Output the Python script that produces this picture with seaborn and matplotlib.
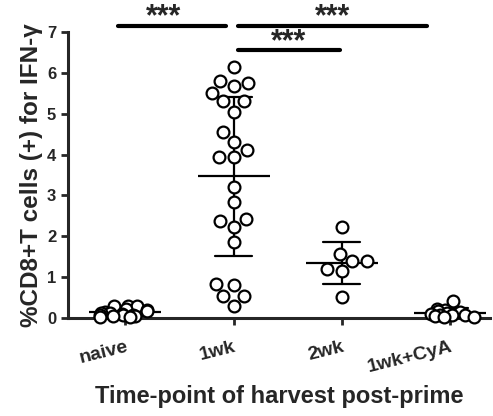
import numpy as np
import pandas as pd
import seaborn as sns
from matplotlib import pyplot as plt

groups = ["naive", "1wk", "2wk", "1wk+CyA"]
naive = [0.30, 0.29, 0.28, 0.22, 0.20, 0.17, 0.15, 0.12, 0.11, 0.10,
         0.08, 0.07, 0.06, 0.05, 0.04, 0.03, 0.02]
wk1 = [6.15, 5.76, 5.80, 5.68, 5.50, 5.30, 5.30, 5.05, 4.54, 4.30, 3.95, 3.95,
       4.10, 3.20, 2.83, 2.41, 2.37, 2.22, 1.85, 0.83, 0.80, 0.54, 0.54, 0.29]
wk2 = [2.22, 1.56, 1.39, 1.39, 1.20, 1.15, 0.51]
wk1_cya = [0.40, 0.22, 0.20, 0.16, 0.14, 0.12, 0.10, 0.08, 0.07, 0.06,
           0.04, 0.03, 0.02]

# significance brackets: (start, end, bar height, star offset)
comparisons = [(-0.07, 0.93, 7.15, -0.08), (1.04, 2.79, 7.15, 0.0),
               (1.04, 1.98, 6.56, 0.0)]

df = pd.DataFrame({
    "group": ["naive"] * len(naive) + ["1wk"] * len(wk1)
             + ["2wk"] * len(wk2) + ["1wk+CyA"] * len(wk1_cya),
    "value": naive + wk1 + wk2 + wk1_cya,
})
low = df["group"].isin(["naive", "1wk+CyA"])

sns.set_style("ticks")
plt.rcParams["font.family"] = ["Liberation Sans", "DejaVu Sans"]
plt.rcParams["font.weight"] = "bold"

fig = plt.figure(figsize=(4.93, 4.16), dpi=100)
ax = fig.add_axes([0.138, 0.236, 0.856, 0.687])

point_kws = dict(size=8.5, color="white", edgecolor="black", linewidth=1.6)
sns.swarmplot(data=df[~low], x="group", y="value", order=groups, ax=ax,
              **point_kws)
np.random.seed(3)
sns.stripplot(data=df[low], x="group", y="value", order=groups, ax=ax,
              jitter=0.25, **point_kws)
sns.pointplot(data=df, x="group", y="value", order=groups, ax=ax,
              errorbar="sd", capsize=0.34, linestyle="none", marker="_",
              markersize=52, markeredgewidth=1.6, color="black",
              err_kws={"linewidth": 1.6})
for c in ax.collections:
    c.set_clip_on(False)

ax.set_xlim(-0.53, 3.37)
ax.set_ylim(0, 7)
ax.set_yticks(range(8))
ax.tick_params(axis="both", length=5, width=2)
ax.tick_params(axis="y", labelsize=12)
ax.tick_params(axis="x", labelsize=14, pad=10)
for lab in ax.get_xticklabels():
    lab.set_rotation(14)
    lab.set_ha("right")
    lab.set_rotation_mode("anchor")
for side in ["left", "bottom"]:
    ax.spines[side].set_linewidth(2.2)
sns.despine(ax=ax)

ax.set_ylabel("%CD8+T cells (+) for IFN-γ", fontsize=17.5, fontweight="bold",
              labelpad=3)
ax.set_xlabel("Time-point of harvest post-prime", fontsize=17,
              fontweight="bold", labelpad=6)

for x1, x2, h, off in comparisons:
    ax.plot([x1, x2], [h, h], color="black", lw=3, clip_on=False,
            solid_capstyle="round")
    ax.text((x1 + x2) / 2 + off, h + 0.2, "***", ha="center", va="center",
            fontsize=22, fontweight="bold")

fig.savefig("out.png", dpi=100)
